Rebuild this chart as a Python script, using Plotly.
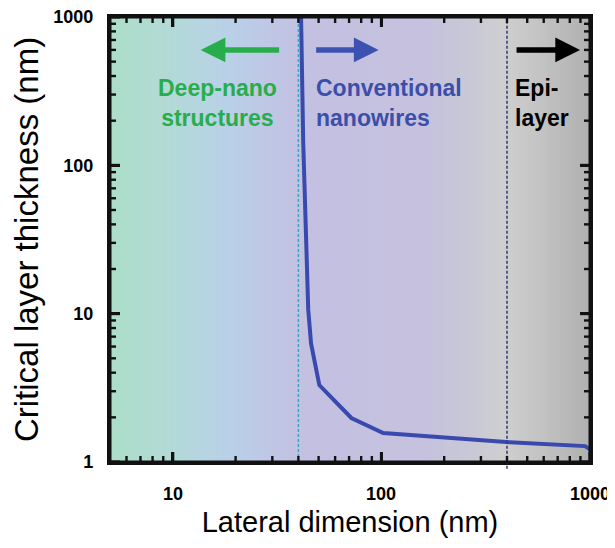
import plotly.graph_objects as go
import numpy as np

# ---- data ----
lateral_nm = [41.2, 42.2, 44.6, 46.0, 50.4, 71.8, 102, 412, 946, 1000]
critical_nm = [1000, 141, 10.6, 6.3, 3.3, 1.98, 1.57, 1.36, 1.28, 1.22]
boundary_nm = [40, 400]
x_ticks = [10, 100, 1000]
x_ticktext = ["10", "100", "1000"]
y_ticks = [1, 10, 100, 1000]
y_ticktext = ["1", "10", "100", "1000"]
x_minor = [6, 7, 8, 9, 20, 30, 40, 50, 60, 70, 80, 90, 200, 300, 400, 500, 600, 700, 800, 900]
y_minor = [2, 3, 4, 5, 6, 7, 8, 9, 20, 30, 40, 50, 60, 70, 80, 90, 200, 300, 400, 500, 600, 700, 800, 900]
region_labels = ["Deep-nano<br>structures", "Conventional<br>nanowires", "Epi-<br>layer"]

# ---- styles ----
FONT = "Liberation Sans, Arial, sans-serif"
GREEN = "#27ad4c"
BLUE = "#3b4fa8"
LINE_BLUE = "#3a49ad"
INK = "#111111"

grad_stops = [
    (0.00, "rgb(172,222,200)"),
    (0.12, "rgb(178,218,214)"),
    (0.25, "rgb(186,208,232)"),
    (0.35, "rgb(192,197,228)"),
    (0.42, "rgb(196,192,226)"),
    (0.65, "rgb(197,193,222)"),
    (0.75, "rgb(200,200,214)"),
    (0.82, "rgb(207,207,207)"),
    (0.88, "rgb(198,198,198)"),
    (1.00, "rgb(176,176,176)"),
]

XR = [np.log10(5), 3]
YR = [0, 3]
PLOT_W, PLOT_H = 480, 445
XPX = (XR[1] - XR[0]) / PLOT_W   # log-decades per pixel
YPX = (YR[1] - YR[0]) / PLOT_H

fig = go.Figure()

# background gradient as a heatmap spanning the plot area
n_cells = 160
bg_edges = np.logspace(XR[0], XR[1], n_cells + 1)
bg_z = [list((np.arange(n_cells) + 0.5) / n_cells)]
fig.add_trace(go.Heatmap(x=bg_edges, y=[10 ** YR[0], 10 ** YR[1]], z=bg_z, zmin=0, zmax=1,
                         colorscale=[[t, c] for t, c in grad_stops], showscale=False,
                         hoverinfo="skip", zsmooth=False))

fig.add_trace(go.Scatter(x=lateral_nm, y=critical_nm, mode="lines",
                         line=dict(color=LINE_BLUE, width=4), showlegend=False, hoverinfo="skip"))

shapes = [
    dict(type="line", xref="x", yref="paper", x0=boundary_nm[0], x1=boundary_nm[0],
         y0=0, y1=1, line=dict(color="#3aa6c2", width=1.5, dash="3px,2px"), layer="above"),
    dict(type="line", xref="x", yref="paper", x0=boundary_nm[1], x1=boundary_nm[1],
         y0=-0.015, y1=1, line=dict(color="#2b3a78", width=1.5, dash="3px,2px"), layer="above"),
]

# inward ticks drawn as thin filled bars on all four sides
def add_xtick(v, length, half_w):
    lo, hi = v / 10 ** (half_w * XPX), v * 10 ** (half_w * XPX)
    for y0, y1 in ((0, length / PLOT_H), (1 - length / PLOT_H, 1)):
        shapes.append(dict(type="rect", xref="x", yref="paper", x0=lo, x1=hi, y0=y0, y1=y1,
                           fillcolor=INK, line=dict(width=0), layer="above"))

def add_ytick(v, length, half_w):
    lo, hi = v / 10 ** (half_w * YPX), v * 10 ** (half_w * YPX)
    for x0, x1 in ((0, length / PLOT_W), (1 - length / PLOT_W, 1)):
        shapes.append(dict(type="rect", xref="paper", yref="y", x0=x0, x1=x1, y0=lo, y1=hi,
                           fillcolor=INK, line=dict(width=0), layer="above"))

for v in x_ticks:
    add_xtick(v, 10, 1.5)
for v in x_minor:
    add_xtick(v, 6, 1.2)
for v in y_ticks:
    add_ytick(v, 10, 1.5)
for v in y_minor:
    add_ytick(v, 6, 1.2)

# frame edges as filled bars
bw_x, bw_y = 1.5 / PLOT_W, 1.5 / PLOT_H
for x0, x1, y0, y1 in ((-bw_x, 1 + bw_x, -bw_y, bw_y), (-bw_x, 1 + bw_x, 1 - bw_y, 1 + bw_y),
                       (-bw_x, bw_x, -bw_y, 1 + bw_y), (1 - bw_x, 1 + bw_x, -bw_y, 1 + bw_y)):
    shapes.append(dict(type="rect", xref="paper", yref="paper", x0=x0, x1=x1, y0=y0, y1=y1,
                       fillcolor=INK, line=dict(width=0), layer="above"))

arrow_y = 600
annotations = [
    dict(x=np.log10(13.6), y=np.log10(arrow_y), xref="x", yref="y", ax=80, ay=0, text="",
         showarrow=True, arrowhead=2, arrowsize=0.9, arrowwidth=5.5, arrowcolor=GREEN),
    dict(x=np.log10(97), y=np.log10(arrow_y), xref="x", yref="y", ax=-64, ay=0, text="",
         showarrow=True, arrowhead=2, arrowsize=0.9, arrowwidth=5.5, arrowcolor="#3d52b0"),
    dict(x=np.log10(896), y=np.log10(arrow_y), xref="x", yref="y", ax=-65, ay=0, text="",
         showarrow=True, arrowhead=2, arrowsize=0.9, arrowwidth=5.5, arrowcolor="black"),
    dict(x=(217 - 110) / 480, y=(462 - 103) / 445, xref="paper", yref="paper",
         text="<b>" + region_labels[0] + "</b>", showarrow=False, xanchor="center", yanchor="middle",
         align="center", font=dict(family=FONT, size=23, color=GREEN)),
    dict(x=(314 - 110) / 480, y=(462 - 103) / 445, xref="paper", yref="paper",
         text="<b>" + region_labels[1] + "</b>", showarrow=False, xanchor="left", yanchor="middle",
         align="left", font=dict(family=FONT, size=23, color=BLUE)),
    dict(x=(513 - 110) / 480, y=(462 - 103) / 445, xref="paper", yref="paper",
         text="<b>" + region_labels[2] + "</b>", showarrow=False, xanchor="left", yanchor="middle",
         align="left", font=dict(family=FONT, size=23, color="black")),
]
for v, t in zip(x_ticks, x_ticktext):
    annotations.append(dict(x=np.log10(v), y=0, xref="x", yref="paper", yanchor="top", yshift=-20,
                            text="<b>" + t + "</b>", showarrow=False,
                            font=dict(family=FONT, size=18, color="black")))

axis_common = dict(
    type="log", showgrid=False, zeroline=False, automargin=False,
    showline=True, linecolor=INK, linewidth=3, mirror="allticks",
    ticks="inside", ticklen=10, tickwidth=3, tickcolor=INK,
    ticklabeloverflow="allow",
)

# page body has an 8px default margin; figure sized/offset to compensate
fig.update_layout(
    width=607, height=540,
    margin=dict(l=102, r=25, t=9, b=86),
    paper_bgcolor="white", plot_bgcolor="white",
    shapes=shapes, annotations=annotations, showlegend=False,
    xaxis=dict(axis_common, range=XR, dtick=1, showticklabels=False,
               title=dict(text="Lateral dimension (nm)", font=dict(family=FONT, size=29, color="black"),
                          standoff=48)),
    yaxis=dict(axis_common, range=YR, tickmode="array", tickvals=y_ticks,
               ticktext=["<b>" + t + "</b>\u00a0\u00a0" for t in y_ticktext],
               tickfont=dict(family=FONT, size=18, color="black"),
               title=dict(text="Critical layer thickness (nm)", font=dict(family=FONT, size=33, color="black"),
                          standoff=18)),
)

fig.write_html("out.html")
